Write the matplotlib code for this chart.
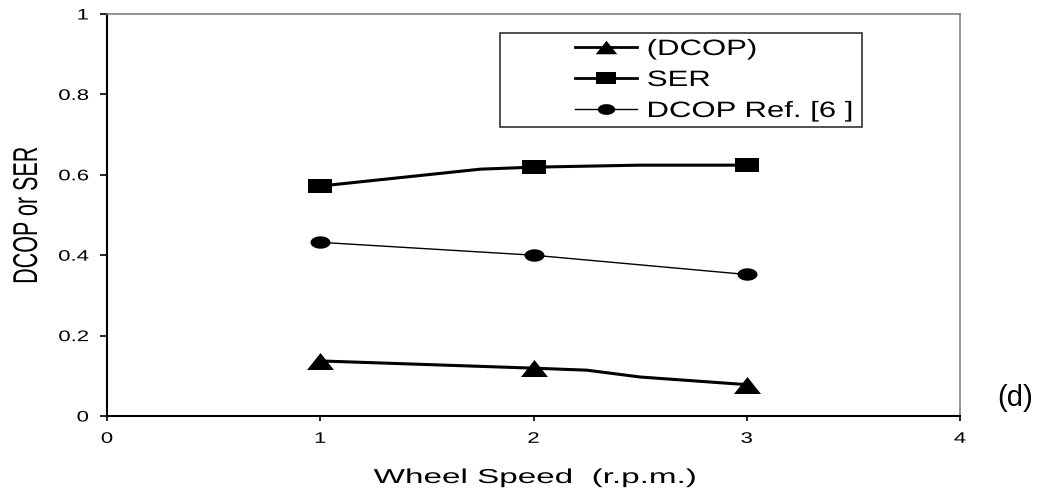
import numpy as np
import matplotlib
matplotlib.use("Agg")
import matplotlib.pyplot as plt
from matplotlib.path import Path
from matplotlib.lines import Line2D
from matplotlib.patches import Rectangle
from matplotlib.patheffects import AbstractPathEffect
from matplotlib.transforms import Affine2D

# ---- data -------------------------------------------------------------
speed = [1, 2, 3]
dcop = [0.137, 0.119, 0.078]
ser = [0.572, 0.619, 0.624]
dcop_ref = [0.432, 0.400, 0.352]

# traced curves between the measured points
dcop_curve_x = [1, 2, 2.25, 2.5, 3]
dcop_curve_y = [0.137, 0.119, 0.114, 0.097, 0.078]
ser_curve_x = [1, 1.75, 2, 2.5, 3]
ser_curve_y = [0.572, 0.614, 0.619, 0.624, 0.624]

x_ticks = [0, 1, 2, 3, 4]
y_ticks = [0, 0.2, 0.4, 0.6, 0.8, 1]
y_tick_labels = ["0", "0.2", "0.4", "0.6", "0.8", "1"]
legend_labels = ["(DCOP)", "SER", "DCOP Ref. [6 ]"]

W, H = 1040, 488
plt.rcParams["font.family"] = ["Liberation Sans", "DejaVu Sans"]


def fx(px):
    return px / W


def fy(py):
    return 1 - py / H


class Stretch(AbstractPathEffect):
    """Scale glyph outlines in text space about a chosen anchor."""

    def __init__(self, sx=1.0, sy=1.0, anchor="center"):
        super().__init__()
        self._sx, self._sy, self._anchor = sx, sy, anchor

    def draw_path(self, renderer, gc, tpath, affine, rgbFace=None):
        ext = tpath.get_extents()
        if self._anchor == "right":
            x0 = ext.x1
        elif self._anchor == "left":
            x0 = ext.x0
        else:
            x0 = 0.5 * (ext.x0 + ext.x1)
        pre = Affine2D().translate(-x0, 0).scale(self._sx, self._sy).translate(x0, 0)
        renderer.draw_path(gc, tpath, pre + affine, rgbFace)


def poly_marker(pts):
    pts = list(pts) + [pts[0]]
    return Path(pts, closed=True)


tri_marker = poly_marker([(-1, -0.63), (1, -0.63), (0, 0.63)])
sq_marker = poly_marker([(-1, -0.62), (1, -0.62), (1, 0.62), (-1, 0.62)])
t = np.linspace(0, 2 * np.pi, 64, endpoint=False)
ell_marker = poly_marker(list(zip(np.cos(t), 0.62 * np.sin(t))))

fig = plt.figure(figsize=(W / 100, H / 100), dpi=100)
ax = fig.add_axes([fx(107), fy(416), fx(960) - fx(107), fy(14) - fy(416)])

# ---- series -----------------------------------------------------------
ax.plot(dcop_curve_x, dcop_curve_y, color="black", lw=2.2, solid_joinstyle="round", zorder=3)
ax.plot(speed, dcop, ls="none", marker=tri_marker, ms=19.4, mfc="black", mec="black", mew=0, zorder=4)

ax.plot(ser_curve_x, ser_curve_y, color="black", lw=2.2, solid_joinstyle="round", zorder=3)
ax.plot(speed, ser, ls="none", marker=sq_marker, ms=17.3, mfc="black", mec="black", mew=0, zorder=4)

ax.plot(speed, dcop_ref, color="black", lw=1.0, zorder=3)
ax.plot(speed, dcop_ref, ls="none", marker=ell_marker, ms=14.4, mfc="black", mec="black", mew=0, zorder=4)

# ---- axes -------------------------------------------------------------
ax.set_xlim(0, 4)
ax.set_ylim(0, 1)
ax.set_xticks(x_ticks)
ax.set_xticklabels([str(v) for v in x_ticks])
ax.set_yticks(y_ticks)
ax.set_yticklabels(y_tick_labels)

for side in ("left", "bottom"):
    ax.spines[side].set_color("black")
    ax.spines[side].set_linewidth(1.5)
for side in ("top", "right"):
    ax.spines[side].set_color("#808080")
    ax.spines[side].set_linewidth(1.2)

ax.tick_params(axis="y", direction="out", length=5, width=1.2, pad=8.2,
               labelsize=11, colors="black", right=False)
ax.tick_params(axis="x", direction="out", length=3.6, width=1.2, pad=7.8,
               labelsize=11, colors="black", top=False)

for lbl in ax.get_yticklabels():
    lbl.set_path_effects([Stretch(1.45, 1.0, "right")])
for lbl in ax.get_xticklabels():
    lbl.set_path_effects([Stretch(1.45, 1.0, "center")])

xl = fig.text(fx(535), fy(483), "Wheel Speed  (r.p.m.)", ha="center", va="baseline",
              fontsize=14.5, color="black")
xl.set_path_effects([Stretch(1.65, 1.0, "center")])

yl = fig.text(fx(37), fy(215.5), "DCOP or SER", rotation=90, rotation_mode="anchor",
              ha="center", va="baseline", fontsize=15.5, color="black")
yl.set_path_effects([Stretch(1.0, 1.6, "center")])

fig.text(fx(1015), fy(398), "(d)", ha="center", va="center", fontsize=21, color="black")

# ---- legend -----------------------------------------------------------
handles = [
    Line2D([], [], color="black", lw=2.0, marker=tri_marker, ms=15.5, mfc="black", mew=0),
    Line2D([], [], color="black", lw=2.0, marker=sq_marker, ms=13.8, mfc="black", mew=0),
    Line2D([], [], color="black", lw=1.0, marker=ell_marker, ms=12.5, mfc="black", mew=0),
]
leg = ax.legend(handles, legend_labels, loc="upper left",
                bbox_to_anchor=(fx(575), fy(39)), bbox_transform=fig.transFigure,
                frameon=False, fontsize=16, handlelength=2.8, handletextpad=0.45,
                labelspacing=0.45, borderpad=0, borderaxespad=0, numpoints=1)
for txt in leg.get_texts():
    txt.set_path_effects([Stretch(1.40, 1.0, "left")])

fig.patches.append(Rectangle((fx(500), fy(127)), fx(862) - fx(500), fy(33) - fy(127),
                             transform=fig.transFigure, fill=False,
                             edgecolor="#222222", lw=1.1, zorder=5))

fig.savefig("out.png", dpi=100)
